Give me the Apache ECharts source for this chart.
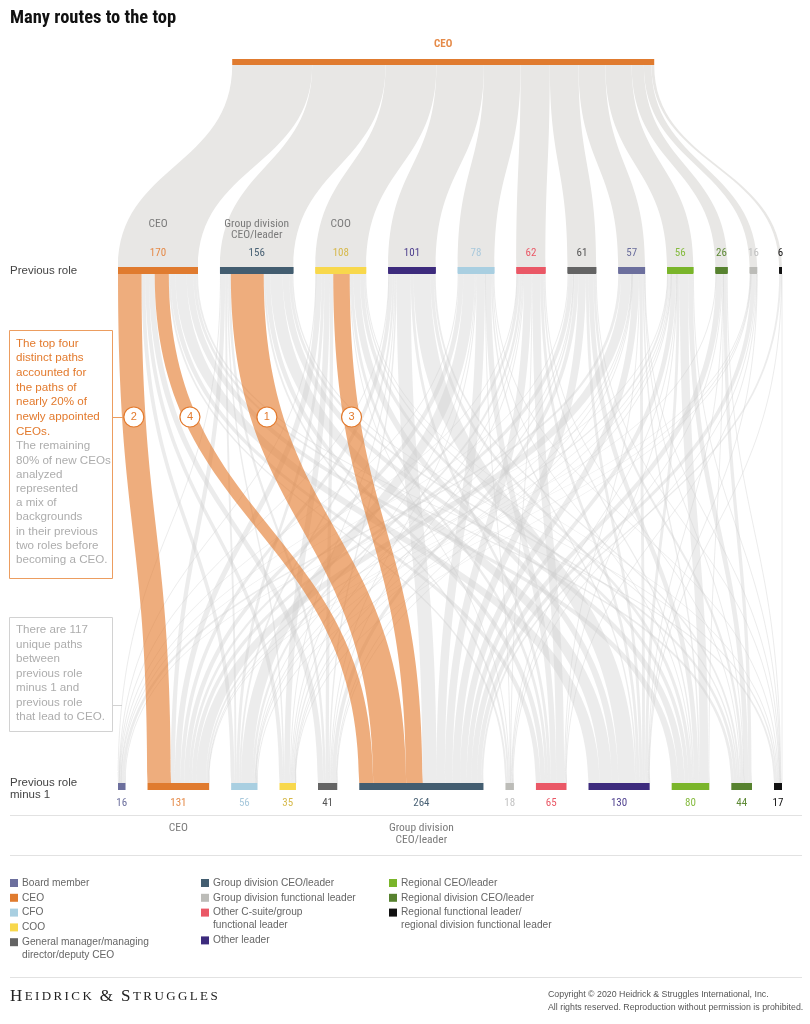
<!DOCTYPE html>
<html><head><meta charset="utf-8">
<script src="https://cdn.jsdelivr.net/npm/echarts@6/dist/echarts.min.js"></script>
<style>html,body{margin:0;padding:0;background:#fff}#c{width:810px;height:1024px}</style>
</head><body><div id="c"></div>
<script>
// ---------------- data ----------------
const roles = ['Board member','CEO','CFO','COO','General manager/managing director/deputy CEO','Group division CEO/leader','Group division functional leader','Other C-suite/group functional leader','Other leader','Regional CEO/leader','Regional division CEO/leader','Regional functional leader/regional division functional leader'];
const legendLabels = ['Board member','CEO','CFO','COO','General manager/managing\ndirector/deputy CEO','Group division CEO/leader','Group division functional leader','Other C-suite/group\nfunctional leader','Other leader','Regional CEO/leader','Regional division CEO/leader','Regional functional leader/\nregional division functional leader'];
const roleColors = ['#6c6f9d','#e07b2f','#a9cfe1','#f8d84c','#646464','#435d70','#bcbcb8','#ea5866','#3d2b7d','#7ab52a','#57822f','#111111'];
const labelColors = ['#6c6f9d','#e58a48','#a9c9dc','#d6b94a','#555555','#4a6275','#c2c2c2','#ea5866','#4e3f8e','#86bb40','#5e8a36','#111111'];

// "Previous role" row: order of roles (indices into roles) and totals
const prevRoleOrder = [1,5,3,8,2,7,4,0,9,10,6,11];
const prevRoleTotals = [170,156,108,101,78,62,61,57,56,26,16,6];
const prevRoleTitles = ['CEO','Group division\nCEO/leader','COO','','','','','','','','',''];
// "Previous role minus 1" row: same order as roles
const prevMinus1Totals = [16,131,56,35,41,264,18,65,130,80,44,17];
const prevMinus1Titles = ['','CEO','','','','Group division\nCEO/leader','','','','','',''];

// flows[i][j]: previous role (prevRoleOrder[i]) <- previous role minus 1 (roles[j])
const flows = [
  [0,50, 8, 8,12,30,4,10,24,14, 6,4],
  [2, 9, 4, 3, 5,70,4,10,26,14, 6,3],
  [1,12, 6,12, 7,35,2, 6,14, 8, 3,2],
  [1, 8, 4, 2, 3,30,0, 6,36, 7, 4,0],
  [2,10,24, 2, 2,18,1,12, 3, 2, 0,2],
  [1, 6, 5, 2, 2,16,2,17, 6, 3, 2,0],
  [2, 9, 1, 3, 8,16,0, 0, 6,10, 5,1],
  [6,21, 1, 1, 1,14,0, 2, 6, 3, 1,1],
  [1, 4, 2, 1, 1,10,1, 1, 6,18,10,1],
  [0, 1, 0, 0, 0,12,2, 0, 1, 1, 7,2],
  [0, 1, 1, 1, 0, 9,2, 1, 1, 0, 0,0],
  [0, 0, 0, 0, 0, 4,0, 0, 1, 0, 0,1]
];
// highlighted top four paths: [previous-role row index, minus-1 role index, path number]
const topPaths = [[0,1,'2'],[0,5,'4'],[1,5,'1'],[2,5,'3']];
const legendColumns = [[0,1,2,3,4],[5,6,7,8],[9,10,11]];

// ---------------- styles / layout ----------------
const FONT = '"Liberation Sans Narrow", "Roboto Condensed", Roboto, "Liberation Sans", sans-serif';
const TFONT = '"Liberation Sans", Roboto, Arial, sans-serif';
const L = 118, W = 664, GAP = 22;
const TOP_A = 59, H_A = 214, TOP_B = 267, H_B = 523;
const ORANGE = '#e37a2d';

const prevId = i => 'p' + i;
const m1Id = j => 'm' + j;
const total = prevRoleTotals.reduce((a, b) => a + b, 0);

// series A: CEO -> previous role
const nodesA = [{
  name: 'top', value: total, itemStyle: {color: roleColors[1]},
  localX: 0.172,
  label: {show: true, position: 'top', distance: 9, formatter: 'CEO', color: '#e58a48', fontWeight: 'bold', fontSize: 11, fontFamily: FONT}
}];
prevRoleOrder.forEach((r, i) => nodesA.push({name: prevId(i), value: prevRoleTotals[i], itemStyle: {color: roleColors[r]}, label: {show: false}}));
const linksA = prevRoleOrder.map((r, i) => ({source: 'top', target: prevId(i), value: prevRoleTotals[i]}));

// series B: previous role -> previous role minus 1
const nodesB = [];
prevRoleOrder.forEach((r, i) => {
  const t = prevRoleTitles[i];
  let fmt = '{v|' + prevRoleTotals[i] + '}';
  if (t) {
    const parts = t.split('\n');
    fmt = '{n|' + parts[0] + '}\n{n|' + (parts[1] || ' ') + '}\n' + fmt;
  }
  nodesB.push({
    name: prevId(i), value: prevRoleTotals[i], itemStyle: {color: roleColors[r]},
    label: {show: true, position: 'top', distance: 2, formatter: fmt,
      rich: {v: {color: labelColors[r], fontSize: 11, lineHeight: 24, fontFamily: FONT},
             n: {color: '#7a7a7a', fontSize: 11.5, lineHeight: 11.5, fontFamily: FONT}}}
  });
});
roles.forEach((r, j) => {
  const t = prevMinus1Titles[j];
  let fmt = '{v|' + prevMinus1Totals[j] + '}';
  if (t) {
    fmt += '\n{sp| }';
    t.split('\n').forEach(p => { fmt += '\n{n|' + p + '}'; });
  }
  nodesB.push({
    name: m1Id(j), value: prevMinus1Totals[j], itemStyle: {color: roleColors[j]},
    label: {show: true, position: 'bottom', distance: 6, formatter: fmt,
      rich: {v: {color: labelColors[j], fontSize: 11, lineHeight: 14, fontFamily: FONT},
             sp: {fontSize: 2, lineHeight: 12.5},
             n: {color: '#7a7a7a', fontSize: 11.5, lineHeight: 11.5, fontFamily: FONT}}}
  });
});
const linksB = [], linksHi = [];
flows.forEach((row, i) => row.forEach((v, j) => {
  if (!v) return;
  const hi = topPaths.some(p => p[0] === i && p[1] === j);
  const link = {source: prevId(i), target: m1Id(j), value: v};
  if (hi) { link.lineStyle = {color: ORANGE, opacity: 0.62}; linksHi.push(link); }
  else linksB.push(link);
}));

// ---------------- graphics (text, annotations, legend) ----------------
function txt(x, y, text, font, fill, extra) {
  return {type: 'text', x: x, y: y, silent: true,
    style: Object.assign({text: text, font: font, fill: fill, verticalAlign: 'middle'}, extra || {})};
}
function hline(y, x1, x2, color) {
  return {type: 'line', silent: true, shape: {x1: x1, y1: y, x2: x2, y2: y}, style: {stroke: color, lineWidth: 1}};
}
const base = [];
base.push(txt(10, 18, 'Many routes to the top', 'bold 18.5px ' + FONT, '#111'));
base.push(txt(10, 271, 'Previous role', '11.5px ' + TFONT, '#444'));
base.push(txt(10, 777, 'Previous role\nminus 1', '11.5px ' + TFONT, '#444', {verticalAlign: 'top', lineHeight: 12}));
// annotation box 1
base.push({type: 'rect', silent: true, shape: {x: 9.5, y: 330.5, width: 103, height: 248}, style: {fill: 'none', stroke: '#ec9d60', lineWidth: 1}});
base.push(txt(16, 336, 'The top four\ndistinct paths\naccounted for\nthe paths of\nnearly 20% of\nnewly appointed\nCEOs.', '11.6px ' + TFONT, ORANGE, {verticalAlign: 'top', lineHeight: 14.7}));
base.push(txt(16, 439, 'The remaining\n80% of new CEOs\nanalyzed\nrepresented\na mix of\nbackgrounds\nin their previous\ntwo roles before\nbecoming a CEO.', '11.6px ' + TFONT, '#adadad', {verticalAlign: 'top', lineHeight: 14.2}));
// annotation box 2
base.push({type: 'rect', silent: true, shape: {x: 9.5, y: 617.5, width: 103, height: 114}, style: {fill: 'none', stroke: '#d2d2d2', lineWidth: 1}});
base.push(txt(16, 623, 'There are 117\nunique paths\nbetween\nprevious role\nminus 1 and\nprevious role\nthat lead to CEO.', '11.6px ' + TFONT, '#adadad', {verticalAlign: 'top', lineHeight: 14.5}));
base.push(hline(705.5, 113, 122, '#d2d2d2'));
// separators
base.push(hline(815.5, 10, 802, '#e2e2e2'));
base.push(hline(855.5, 10, 802, '#e2e2e2'));
base.push(hline(977.5, 10, 802, '#e2e2e2'));
// legend
const legendX = [10, 201, 389];
legendColumns.forEach((col, c) => {
  let y = 883;
  col.forEach(j => {
    base.push({type: 'rect', silent: true, shape: {x: legendX[c], y: y - 4, width: 8, height: 8}, style: {fill: roleColors[j]}});
    base.push(txt(legendX[c] + 12, y - 6.5, legendLabels[j], '10.2px ' + TFONT, '#666', {verticalAlign: 'top', lineHeight: 13}));
    y += legendLabels[j].split('\n').length * 13 + 1.8;
  });
});
// footer (small caps with letter spacing through rich tokens)
const brand = 'HEIDRICK & STRUGGLES';
let brandText = '';
brand.split('').forEach((ch, k) => {
  const big = k === 0 || brand[k - 1] === ' ' || ch === '&';
  brandText += '{' + (big ? 'a' : 'b') + '|' + ch + '}';
});
base.push({type: 'text', x: 10, y: 997, silent: true, style: {
  text: brandText, verticalAlign: 'middle', fill: '#222',
  rich: {a: {fontSize: 17, fontFamily: '"Liberation Serif", serif', fill: '#222', padding: [0, 2.4, 0, 0]},
         b: {fontSize: 13, fontFamily: '"Liberation Serif", serif', fill: '#222', padding: [0, 2.4, 0, 0]}}}});
base.push(txt(548, 995, 'Copyright \u00a9 2020 Heidrick & Struggles International, Inc.', '8.8px ' + TFONT, '#555'));
base.push(txt(548, 1008, 'All rights reserved. Reproduction without permission is prohibited.', '8.8px ' + TFONT, '#555'));

const chart = echarts.init(document.getElementById('c'), null, {renderer: 'canvas'});
const option = {
  animation: false,
  backgroundColor: '#fff',
  series: [
    {type: 'sankey', orient: 'vertical', left: L, width: W, top: TOP_A, height: H_A,
     nodeWidth: 6, nodeGap: GAP, layoutIterations: 0, draggable: false, silent: true,
     emphasis: {disabled: true},
     lineStyle: {color: '#e8e7e5', opacity: 1, curveness: 0.5},
     data: nodesA, links: linksA},
    {type: 'sankey', orient: 'vertical', left: L, width: W, top: TOP_B, height: H_B,
     nodeWidth: 7, nodeGap: GAP, layoutIterations: 0, draggable: false, silent: true,
     emphasis: {disabled: true},
     lineStyle: {color: '#cdcdcd', opacity: 0.38, curveness: 0.5},
     data: nodesB, links: linksB.concat(linksHi)}
  ],
  graphic: base
};
chart.setOption(option);

// numbered markers placed on the highlighted paths
function markers() {
  const out = [];
  try {
    const s = chart.getModel().getSeriesByIndex(1);
    const g = s.getGraph();
    const Y = 417;
    let mark2 = null;
    g.eachEdge(function (e) {
      const hit = topPaths.find(p => prevId(p[0]) === e.node1.id && m1Id(p[1]) === e.node2.id);
      if (!hit) return;
      const el = e.getLayout(), a = e.node1.getLayout(), b = e.node2.getLayout();
      const x1 = L + a.x + el.sy + el.dy / 2, y1 = TOP_B + a.y + a.dy;
      const x2 = L + b.x + el.ty + el.dy / 2, y2 = TOP_B + b.y;
      let lo = 0, hi = 1, t = 0.5;
      for (let k = 0; k < 40; k++) {
        t = (lo + hi) / 2;
        const yf = 1.5 * t - 1.5 * t * t + t * t * t;
        if (y1 + (y2 - y1) * yf < Y) lo = t; else hi = t;
      }
      const x = x1 + (x2 - x1) * (3 * t * t - 2 * t * t * t);
      if (hit[2] === '2') mark2 = x;
      out.push({type: 'circle', silent: true, z: 100, shape: {cx: x, cy: Y, r: 10}, style: {fill: '#fff', stroke: ORANGE, lineWidth: 1.2}});
      out.push({type: 'text', silent: true, z: 101, x: x, y: Y, style: {text: hit[2], fill: ORANGE, font: '11px ' + TFONT, align: 'center', verticalAlign: 'middle'}});
    });
    if (mark2 != null) out.push({type: 'line', silent: true, z: 99, shape: {x1: 112.5, y1: 417.5, x2: mark2 - 10, y2: 417.5}, style: {stroke: '#ec9d60', lineWidth: 1}});
  } catch (err) {}
  return out;
}
chart.setOption({graphic: base.concat(markers())});
</script></body></html>
